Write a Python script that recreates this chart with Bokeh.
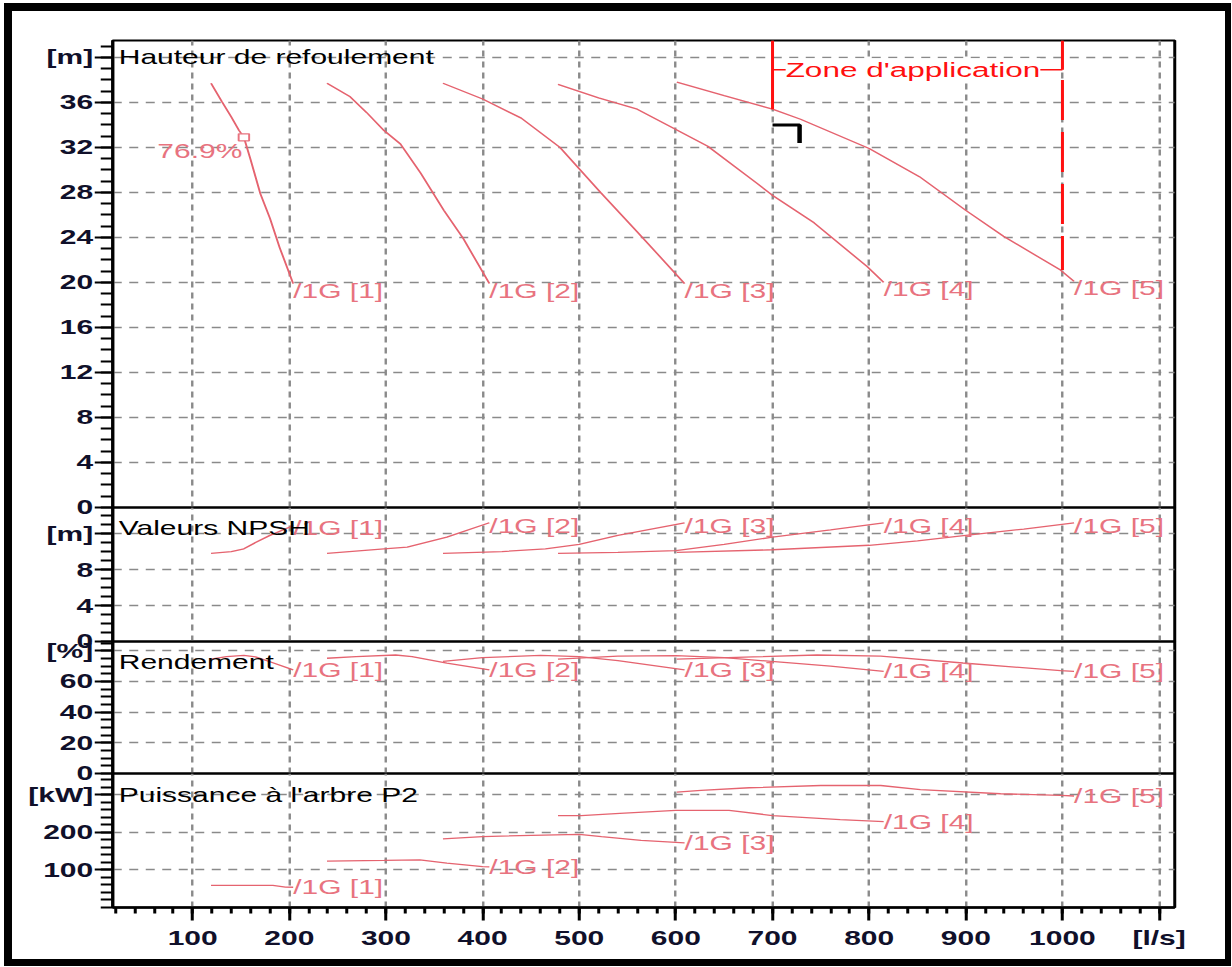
from bokeh.plotting import figure
from bokeh.layouts import column
from bokeh.models import Range1d, FixedTicker, Label
from bokeh.embed import file_html
from bokeh.resources import INLINE
from bokeh.core.properties import value

# ---------------- data ----------------
X_TICKS = [100, 200, 300, 400, 500, 600, 700, 800, 900, 1000, 1100]
X_MINOR = [20, 40, 60, 80, 100, 120, 140, 160, 180, 200, 220, 240, 260, 280, 300,
           320, 340, 360, 380, 400, 420, 440, 460, 480, 500, 520, 540, 560, 580, 600,
           620, 640, 660, 680, 700, 720, 740, 760, 780, 800, 820, 840, 860, 880, 900,
           920, 940, 960, 980, 1000, 1020, 1040, 1060, 1080, 1100]
X_UNIT = "[l/s]"

PUMP_LABELS = ["/1G [1]", "/1G [2]", "/1G [3]", "/1G [4]", "/1G [5]"]

# Hauteur de refoulement [m]
H_Q1 = [119, 130, 140, 148, 153, 160, 170, 180, 190, 204]
H_1 = [37.7, 36.1, 34.7, 33.5, 32.9, 30.9, 27.9, 25.7, 23.1, 19.9]
H_Q2 = [239, 263, 280, 298, 315, 336, 360, 380, 407]
H_2 = [37.7, 36.5, 35.1, 33.5, 32.3, 29.7, 26.4, 23.9, 19.9]
H_Q3 = [359, 400, 440, 480, 522, 560, 609]
H_3 = [37.7, 36.3, 34.6, 32.0, 28.0, 24.5, 19.9]
H_Q4 = [478, 520, 560, 600, 633, 684, 699, 743, 798, 815]
H_4 = [37.6, 36.4, 35.4, 33.6, 32.1, 28.8, 27.8, 25.3, 21.4, 20.0]
H_Q5 = [601, 650, 700, 729, 800, 852, 900, 939, 998, 1012]
H_5 = [37.8, 36.6, 35.4, 34.5, 31.9, 29.4, 26.4, 24.1, 21.1, 20.1]

# Valeurs NPSH [m]
N_Q1 = [119, 140, 153, 165, 180, 200, 204]
N_1 = [9.8, 10.0, 10.3, 11.0, 11.8, 12.7, 12.9]
N_Q2 = [239, 298, 322, 363, 407]
N_2 = [9.8, 10.3, 10.5, 11.6, 13.2]
N_Q3 = [359, 420, 465, 500, 540, 609]
N_3 = [9.8, 10.0, 10.3, 10.8, 11.8, 13.2]
N_Q4 = [478, 540, 600, 650, 700, 760, 815]
N_4 = [9.8, 9.9, 10.1, 10.8, 11.6, 12.4, 13.2]
N_Q5 = [601, 700, 800, 850, 900, 960, 1012]
N_5 = [9.9, 10.2, 10.7, 11.2, 11.8, 12.5, 13.2]

# Rendement [%]
E_Q1 = [119, 135, 153, 165, 180, 204]
E_1 = [74.5, 76.2, 76.9, 76.0, 72.8, 67.5]
E_Q2 = [239, 269, 310, 327, 363, 407]
E_2 = [75.1, 76.2, 77.2, 76.2, 71.9, 67.5]
E_Q3 = [359, 400, 460, 500, 540, 609]
E_3 = [73.0, 75.5, 77.0, 76.2, 73.5, 67.5]
E_Q4 = [478, 540, 600, 650, 699, 760, 815]
E_4 = [74.5, 76.5, 76.8, 75.5, 73.0, 70.0, 66.5]
E_Q5 = [601, 680, 746, 812, 897, 998, 1012]
E_5 = [74.5, 76.0, 77.2, 76.5, 72.0, 67.0, 66.5]

# Puissance à l'arbre P2 [kW]
P_Q1 = [119, 183, 196, 204]
P_1 = [58.7, 58.7, 54.5, 54.0]
P_Q2 = [239, 298, 335, 363, 400, 407]
P_2 = [123.5, 125.3, 127.0, 118.0, 109.0, 108.0]
P_Q3 = [359, 400, 500, 523, 564, 609]
P_3 = [183, 189, 195, 189, 179, 172]
P_Q4 = [478, 502, 542, 600, 655, 700, 770, 815]
P_4 = [245, 245, 251, 258.7, 258.7, 245, 234, 229]
P_Q5 = [601, 626, 676, 750, 812, 853, 936, 998, 1012]
P_5 = [307.5, 312, 319, 325, 325, 314, 303, 298.7, 297]

# best efficiency point of one pump
BEP_Q = [153]
BEP_H = [32.9]
BEP_TEXT = ["76.9%"]

# application range and duty point
ZONE_Q = [700, 1000]
ZONE_H_CURVE = [35.4, 21.1]
ZONE_H_BRACKET = 38.9
ZONE_H_DASH_START = 38.0
ZONE_TEXT = "Zone d'application"
DUTY_Q = [700, 728, 728]
DUTY_H = [34.0, 34.0, 32.4]

# ---------------- style ----------------
FONT = "Liberation Sans"
FS = "20px"
CURVE = "#e5636f"
LABEL = "#e8737f"
ZONE = "#ff1010"
GRID = "#8a8a8a"
INK = "#10102a"

X_LO, X_HI = 17.3, 1116.2
x_range = Range1d(X_LO, X_HI)
OVERLAP = 14
STRETCH = 1.5                      # horizontal stretch of the whole sheet
LEFT, FRAME_W, RIGHT = 72, 709, 37
TOTAL_W = LEFT + FRAME_W + RIGHT   # width of the drawing before stretching
# Bokeh measures its boxes after the CSS transform, so the declared
# width is the pre-stretch width divided by the stretch factor.
DECLARED_W = round(TOTAL_W / STRETCH)


def style_axis(ax, major_out, minor_out):
    ax.axis_line_color = "black"
    ax.axis_line_width = 2
    ax.major_tick_in = 0
    ax.minor_tick_in = 0
    ax.major_tick_out = major_out
    ax.minor_tick_out = minor_out
    ax.major_tick_line_color = "black"
    ax.minor_tick_line_color = "black"
    ax.major_tick_line_width = 2
    ax.minor_tick_line_width = 2
    ax.major_label_text_font = FONT
    ax.major_label_text_font_size = FS
    ax.major_label_text_font_style = "bold"
    ax.major_label_text_color = INK


def make_panel(y_end, frame_h, top, bottom, ticks, minor, unit, title, title_y,
               shift=False, x_axis=False):
    p = figure(
        x_range=x_range, y_range=Range1d(0, y_end),
        width=DECLARED_W, height=top + frame_h + bottom,
        min_border_left=LEFT, min_border_right=RIGHT,
        min_border_top=top, min_border_bottom=bottom,
        x_axis_location="below" if x_axis else None,
        output_backend="svg", toolbar_location=None,
        border_fill_color=None, background_fill_color=None,
        outline_line_color="black", outline_line_width=2,
        sizing_mode="fixed",
    )
    if shift:
        p.styles = {"margin-top": f"{-2 * OVERLAP}px"}

    ya = p.yaxis[0]
    ya.ticker = FixedTicker(ticks=ticks, minor_ticks=minor)
    ya.major_label_overrides = {ticks[-1]: unit}
    ya.major_label_standoff = 1
    style_axis(ya, 12, 8)

    p.ygrid.ticker = FixedTicker(ticks=ticks)
    p.xgrid.ticker = FixedTicker(ticks=X_TICKS)
    for g in (p.xgrid, p.ygrid):
        g.grid_line_color = GRID
        g.grid_line_dash = "6 5"
        g.grid_line_width = 1.6

    if x_axis:
        xa = p.xaxis[0]
        xa.ticker = FixedTicker(ticks=X_TICKS, minor_ticks=X_MINOR)
        xa.major_label_overrides = {X_TICKS[-1]: X_UNIT}
        xa.major_label_standoff = 7
        style_axis(xa, 13, 6)
        xa.axis_line_width = 2.5

    p.add_layout(Label(x=X_LO, y=title_y, x_offset=4, text=title,
                       text_font=FONT, text_font_size=FS, text_color="black",
                       text_baseline="middle"))
    return p


def draw_family(p, qs, vals, dy):
    for q, v in zip(qs, vals):
        p.line(q, v, line_color=CURVE, line_width=1.3)
    p.text(x=[q[-1] for q in qs], y=[v[-1] for v in vals], text=PUMP_LABELS,
           text_font=value(FONT), text_font_size=FS, text_color=LABEL,
           text_align="left", text_baseline="middle", y_offset=dy)


# head panel
p_head = make_panel(41.5, 467, 37, OVERLAP, [0, 4, 8, 12, 16, 20, 24, 28, 32, 36, 40],
                    list(range(0, 42)), "[m]", "Hauteur de refoulement", 40)
draw_family(p_head, [H_Q1, H_Q2, H_Q3, H_Q4, H_Q5], [H_1, H_2, H_3, H_4, H_5], 7)
p_head.scatter(BEP_Q, BEP_H, marker="square", size=7, line_color=LABEL,
               fill_color="white", line_width=1.3)
p_head.text(x=BEP_Q, y=BEP_H, text=BEP_TEXT, text_font=value(FONT), text_font_size=FS,
            text_color=LABEL, text_align="right", text_baseline="middle",
            x_offset=-1, y_offset=14)

# application range
p_head.line([ZONE_Q[0], ZONE_Q[0]], [41.5, ZONE_H_CURVE[0]], line_color=ZONE, line_width=2)
p_head.line([ZONE_Q[1], ZONE_Q[1]], [41.5, ZONE_H_BRACKET], line_color=ZONE, line_width=2)
p_head.line([ZONE_Q[1], ZONE_Q[1]], [ZONE_H_DASH_START, ZONE_H_CURVE[1]], line_color=ZONE,
            line_width=2, line_dash="40 12")
p_head.line(ZONE_Q, [ZONE_H_BRACKET, ZONE_H_BRACKET], line_color=ZONE, line_width=1.5)
p_head.add_layout(Label(x=(ZONE_Q[0] + ZONE_Q[1]) / 2, y=ZONE_H_BRACKET, x_offset=-3,
                        text=ZONE_TEXT, text_font=FONT, text_font_size="21px",
                        text_color=ZONE, text_align="center", text_baseline="middle",
                        background_fill_color="white"))
p_head.line(DUTY_Q, DUTY_H, line_color="black", line_width=3)

# NPSH panel
p_npsh = make_panel(14.9, 134, OVERLAP, OVERLAP, [0, 4, 8, 12], list(range(0, 15)), "[m]",
                    "Valeurs NPSH", 12.65, shift=True)
draw_family(p_npsh, [N_Q1, N_Q2, N_Q3, N_Q4, N_Q5], [N_1, N_2, N_3, N_4, N_5], 3)

# efficiency panel
p_eff = make_panel(86.0, 132, OVERLAP, OVERLAP, [0, 20, 40, 60, 80],
                   list(range(0, 86, 5)), "[%]", "Rendement", 72.5, shift=True)
draw_family(p_eff, [E_Q1, E_Q2, E_Q3, E_Q4, E_Q5], [E_1, E_2, E_3, E_4, E_5], 0)

# shaft power panel
p_pow = make_panel(357, 134, OVERLAP, 59, [100, 200, 300],
                   list(range(0, 357, 20)), "[kW]", "Puissance à l'arbre P2", 300,
                   shift=True, x_axis=True)
draw_family(p_pow, [P_Q1, P_Q2, P_Q3, P_Q4, P_Q5], [P_1, P_2, P_3, P_4, P_5], 0)

layout = column(
    p_head, p_npsh, p_eff, p_pow,
    width=TOTAL_W, sizing_mode="fixed",
    styles={
        "margin": "3px 0 0 4px",
        "background-color": "white",
        "box-shadow": ("inset 5.33px 0 0 0 #000, inset -4px 0 0 0 #000, "
                       "inset 0 8px 0 0 #000, inset 0 -7px 0 0 #000"),
        "transform": f"scaleX({STRETCH})",
        "transform-origin": "0 0",
    },
)

open("out.html", "w").write(file_html(layout, INLINE))
